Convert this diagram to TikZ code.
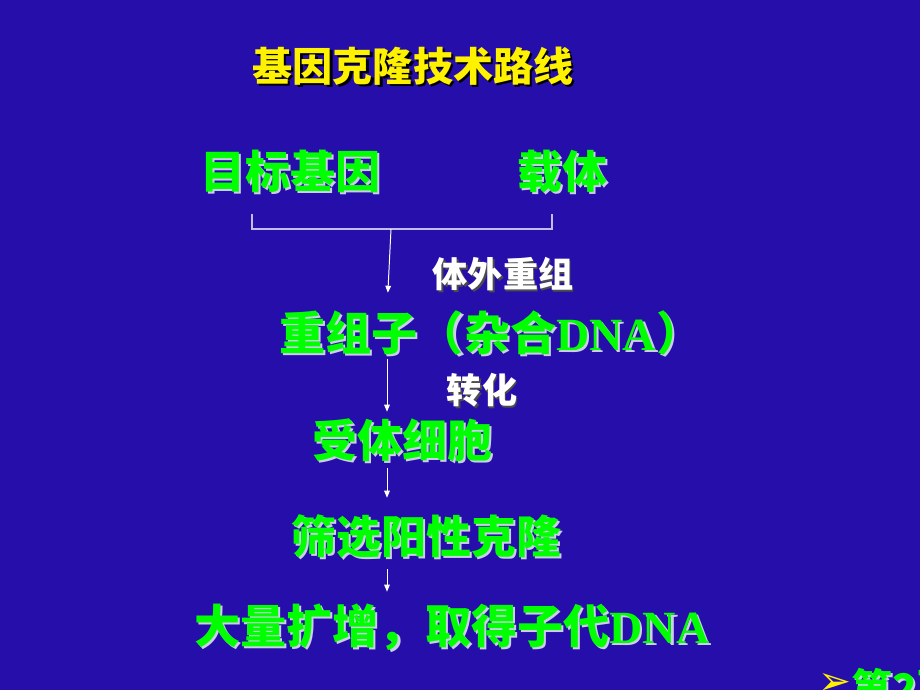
\documentclass[tikz,border=0pt]{standalone}
\usepackage{fontspec}
\setmainfont{Noto Sans CJK SC}
\newfontfamily\tnr{Liberation Serif}
\newfontfamily\dejavu{DejaVu Sans}
\usetikzlibrary{arrows.meta}

\definecolor{slideblue}{RGB}{38,14,170}
\definecolor{genegreen}{RGB}{0,255,0}
\definecolor{glow}{RGB}{205,205,235}
\definecolor{bracketgray}{RGB}{190,190,230}
% text with a small shadow: colour, text, offset
\newcommand\shadowed[3]{\makebox[0pt][l]{\kern#3\raisebox{-#3}{\color{#1}#2}}#2}

\begin{document}
\begin{tikzpicture}[x=0.025cm, y=-0.025cm,
  title/.style={text=yellow, inner sep=0, text height=25.1pt, text depth=3.4pt,
    font=\fontsize{28.5}{34}\selectfont\bfseries},
  stage/.style={text=genegreen, inner sep=0, text height=28.2pt, text depth=3.8pt,
    font=\fontsize{32}{38}\selectfont\bfseries},
  wide/.style={font=\fontsize{32.8}{38}\selectfont\bfseries},
  how/.style={text=white, inner sep=0, text height=22pt, text depth=3pt,
    font=\fontsize{25}{30}\selectfont\bfseries},
  flow/.style={white, line width=0.7pt, -{Triangle[length=5pt,width=4pt]}},
  brace/.style={bracketgray, line width=1pt}]

  \fill[slideblue] (0,0) rectangle (920,690);
  \useasboundingbox (0,0) rectangle (920,690);

  \node[title] (head) at (413,66) {\shadowed{black}{基因克隆技术路线}{1.6pt}};

  \node[stage] (target) at (290,171) {\shadowed{glow}{目标基因}{1.5pt}};
  \node[stage] (vector) at (562,171) {\shadowed{glow}{载体}{1.5pt}};

  \coordinate (bl) at (252,214);
  \coordinate (br) at (552,214);
  \coordinate (join) at (391,229);
  \coordinate (axis) at (387,0);
  \draw[brace] (bl) -- ++(0,15) -| (br);

  \node[how] (invitro) at (503,274) {\shadowed{black!70}{体外重组}{1.3pt}};
  \node[stage, wide] (recomb) at (491,333)
    {\shadowed{glow}{重组子（杂合{\tnr DNA}）}{1.5pt}};
  \node[how] (transform) at (482,390) {\shadowed{black!70}{转化}{1.3pt}};
  \node[stage] (host) at (402,440) {\shadowed{glow}{受体细胞}{1.5pt}};
  \node[stage] (screen) at (426,536) {\shadowed{glow}{筛选阳性克隆}{1.5pt}};
  \node[stage, wide] (amplify) at (452,626)
    {\shadowed{glow}{大量扩增，取得子代{\tnr DNA}}{1.5pt}};

  \draw[flow, shorten >=12.4pt] (join) -- (recomb.north -| axis);
  \draw[flow, shorten <=2.5pt, shorten >=3.9pt] (recomb.south -| axis) -- (host.north -| axis);
  \draw[flow, shorten <=3.9pt, shorten >=11pt] (host.south -| axis) -- (screen.north -| axis);
  \draw[flow, shorten <=7.5pt, shorten >=8.2pt] (screen.south -| axis) -- (amplify.north -| axis);

  \node[text=yellow, inner sep=0, font=\dejavu\fontsize{28}{32}\selectfont] (bullet) at (835,684) {➢};
  \node[stage, anchor=west, text height=25.5pt, text depth=3.5pt,
    font=\fontsize{29}{34}\selectfont\bfseries] (page) at (851,688)
    {\shadowed{glow}{第2页}{1.5pt}};

\end{tikzpicture}
\end{document}
